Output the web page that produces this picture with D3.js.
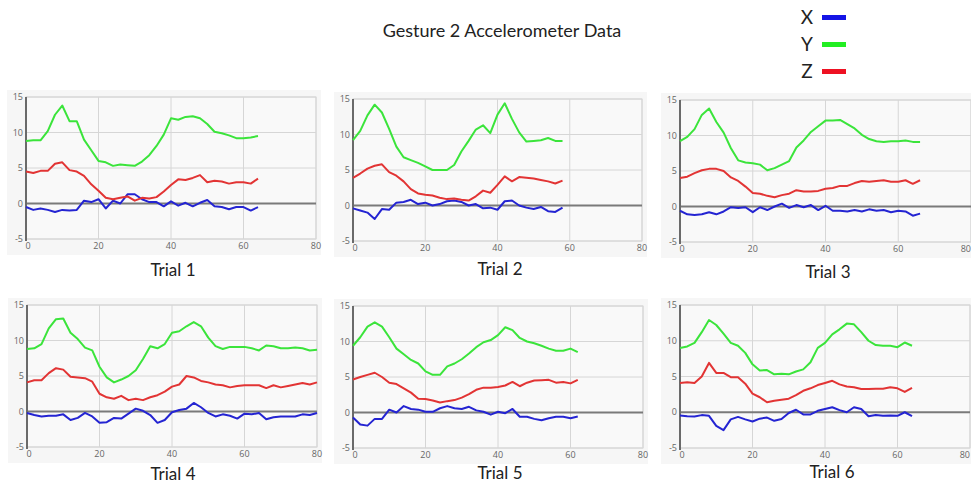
<!DOCTYPE html>
<html>
<head>
<meta charset="utf-8">
<script src="https://cdn.jsdelivr.net/npm/d3@7"></script>
<style>
  body { margin: 0; background: #fff; }
  svg { display: block; font-family: "Open Sans", "Noto Sans", sans-serif; }
  .grid line { stroke: #d6d6d6; stroke-width: 1; }
  .tick-label { font-size: 9px; fill: #666; }
  .trial-label { font-family: Lato, "Open Sans", sans-serif; font-size: 17px; fill: #222; }
</style>
</head>
<body>
<div id="chart"></div>
<script>
// Gesture 2 accelerometer data, six trials, one sample every 2 time units

const xTicks = [0, 20, 40, 60, 80];
const yTicks = [-5, 0, 5, 10, 15];
const seriesNames = ["X", "Y", "Z"];
const trialNames = ["Trial 1", "Trial 2", "Trial 3", "Trial 4", "Trial 5", "Trial 6"];
const sampleStep = 2;

const trial1X = [-0.5, -0.9, -0.7, -0.9, -1.2, -0.9, -1.0, -0.9, 0.4, 0.2, 0.6, -0.7, 0.4, 0.0, 1.3, 1.3, 0.6, 0.2, 0.2, -0.4, 0.3, -0.3, 0.1, -0.4, 0.1, 0.5, -0.4, -0.5, -0.8, -0.5, -0.5, -1.0, -0.5];
const trial1Y = [8.8, 8.9, 8.9, 10.2, 12.5, 13.8, 11.6, 11.6, 9.0, 7.5, 6.0, 5.8, 5.3, 5.5, 5.4, 5.3, 5.9, 6.8, 8.1, 9.7, 12.0, 11.8, 12.2, 12.3, 12.0, 11.2, 10.1, 9.9, 9.6, 9.2, 9.2, 9.3, 9.5];
const trial1Z = [4.5, 4.3, 4.6, 4.6, 5.6, 5.8, 4.7, 4.5, 3.9, 2.7, 1.8, 0.8, 0.6, 0.8, 1.0, 0.4, 0.8, 0.7, 0.9, 1.7, 2.6, 3.4, 3.3, 3.6, 4.0, 3.0, 3.2, 3.1, 2.8, 3.0, 3.0, 2.8, 3.5];

const trial2X = [-0.4, -0.7, -1.0, -1.9, -0.5, -0.6, 0.4, 0.5, 0.8, 0.2, 0.4, 0.0, 0.2, 0.6, 0.7, 0.5, 0.0, 0.2, -0.4, -0.3, -0.6, 0.6, 0.7, 0.0, -0.3, -0.5, -0.2, -0.8, -0.9, -0.3];
const trial2Y = [9.2, 10.5, 12.7, 14.2, 13.1, 10.8, 8.3, 6.8, 6.4, 6.0, 5.5, 5.0, 5.0, 5.0, 5.7, 7.6, 9.1, 10.7, 11.3, 10.2, 12.8, 14.4, 12.2, 10.3, 9.0, 9.1, 9.2, 9.5, 9.1, 9.1];
const trial2Z = [3.9, 4.5, 5.2, 5.6, 5.8, 4.7, 4.2, 3.4, 2.3, 1.7, 1.5, 1.4, 1.1, 0.9, 1.0, 0.8, 0.7, 1.3, 2.1, 1.8, 2.9, 4.1, 3.4, 4.0, 3.9, 3.8, 3.6, 3.4, 3.1, 3.5];

const trial3X = [-0.6, -1.1, -1.2, -1.1, -0.8, -1.1, -0.7, -0.1, -0.2, -0.1, -0.8, -0.1, -0.5, 0.0, 0.4, -0.2, 0.2, -0.1, 0.2, -0.5, 0.1, -0.6, -0.6, -0.7, -0.5, -0.7, -0.4, -0.6, -0.5, -0.8, -0.6, -0.7, -1.3, -1.0];
const trial3Y = [9.2, 9.8, 10.9, 12.9, 13.8, 11.9, 10.4, 8.2, 6.5, 6.2, 6.1, 5.9, 5.1, 5.4, 5.9, 6.4, 8.3, 9.3, 10.5, 11.3, 12.1, 12.1, 12.2, 11.6, 11.0, 10.1, 9.5, 9.2, 9.1, 9.2, 9.2, 9.3, 9.1, 9.1];
const trial3Z = [4.0, 4.2, 4.7, 5.1, 5.3, 5.3, 5.0, 4.1, 3.6, 2.8, 1.9, 1.8, 1.5, 1.3, 1.6, 1.8, 2.3, 2.1, 2.1, 2.2, 2.5, 2.6, 2.9, 2.9, 3.3, 3.6, 3.5, 3.6, 3.7, 3.5, 3.5, 3.7, 3.2, 3.7];

const trial4X = [-0.2, -0.5, -0.7, -0.6, -0.6, -0.4, -1.2, -0.9, -0.2, -0.7, -1.6, -1.5, -0.9, -1.0, -0.3, 0.4, 0.1, -0.5, -1.6, -1.2, -0.1, 0.2, 0.4, 1.2, 0.6, -0.2, -0.7, -0.4, -0.6, -1.0, -0.3, -0.4, -0.2, -1.1, -0.8, -0.7, -0.7, -0.7, -0.4, -0.5, -0.2];
const trial4Y = [8.8, 8.9, 9.5, 11.7, 13.0, 13.1, 11.1, 10.2, 9.0, 8.6, 6.3, 4.8, 4.1, 4.5, 5.0, 5.8, 7.4, 9.2, 8.9, 9.5, 11.1, 11.3, 12.0, 12.6, 12.0, 10.4, 9.2, 8.8, 9.1, 9.1, 9.1, 8.9, 8.6, 9.3, 9.2, 8.9, 8.9, 9.0, 8.9, 8.6, 8.7];
const trial4Z = [4.1, 4.4, 4.4, 5.4, 6.1, 5.9, 4.9, 4.8, 4.7, 4.2, 2.5, 2.0, 1.8, 2.2, 1.6, 1.8, 1.6, 2.0, 2.3, 2.8, 3.5, 3.8, 5.0, 4.8, 4.3, 4.1, 3.8, 3.7, 3.4, 3.6, 3.7, 3.7, 3.7, 3.3, 3.7, 3.4, 3.6, 3.8, 4.0, 3.8, 4.1];

const trial5X = [-0.7, -1.7, -1.85, -0.9, -0.9, 0.4, 0.0, 0.9, 0.5, 0.4, 0.1, 0.1, 0.6, 0.9, 0.6, 0.5, 0.8, 0.3, 0.1, -0.3, 0.1, -0.1, 0.5, -0.6, -0.6, -0.9, -1.1, -0.8, -0.6, -0.6, -0.8, -0.55];
const trial5Y = [9.4, 10.6, 12.1, 12.7, 12.1, 10.6, 9.0, 8.2, 7.4, 6.9, 5.8, 5.3, 5.3, 6.5, 6.9, 7.5, 8.3, 9.2, 9.9, 10.2, 10.9, 12.0, 11.6, 10.5, 10.0, 9.75, 9.4, 9.0, 8.7, 8.7, 9.0, 8.5];
const trial5Z = [4.65, 5.0, 5.3, 5.6, 5.0, 4.2, 4.0, 3.4, 2.8, 1.95, 1.9, 1.7, 1.4, 1.6, 1.75, 2.1, 2.6, 3.2, 3.5, 3.5, 3.6, 3.8, 4.3, 3.7, 4.2, 4.5, 4.55, 4.6, 4.2, 4.3, 4.1, 4.6];

const trial6X = [-0.45, -0.55, -0.6, -0.4, -0.5, -1.9, -2.5, -1.0, -0.65, -1.0, -1.3, -0.9, -0.75, -1.2, -0.95, -0.1, 0.35, -0.3, -0.3, 0.2, 0.45, 0.7, 0.3, 0.0, 0.7, 0.45, -0.55, -0.4, -0.5, -0.45, -0.5, 0.0, -0.55];
const trial6Y = [9.0, 9.2, 9.7, 11.2, 12.9, 12.2, 11.0, 9.7, 9.3, 8.3, 6.7, 5.85, 5.9, 5.3, 5.4, 5.3, 5.7, 6.0, 7.0, 9.0, 9.7, 10.9, 11.6, 12.4, 12.3, 11.2, 10.0, 9.4, 9.3, 9.3, 9.1, 9.75, 9.3];
const trial6Z = [4.1, 4.2, 4.1, 5.0, 6.9, 5.5, 5.5, 4.9, 4.9, 4.0, 2.6, 2.1, 1.4, 1.6, 1.75, 1.9, 2.4, 3.0, 3.35, 3.8, 4.1, 4.4, 3.9, 3.6, 3.5, 3.25, 3.25, 3.3, 3.3, 3.5, 3.35, 2.85, 3.4];

const trials = [
  [trial1X, trial1Y, trial1Z],
  [trial2X, trial2Y, trial2Z],
  [trial3X, trial3Y, trial3Z],
  [trial4X, trial4Y, trial4Z],
  [trial5X, trial5Y, trial5Z],
  [trial6X, trial6Y, trial6Z]
];

// layout of each small chart (plot area in px) and where its caption sits
const panels = [
  {left: 26,  top: 97,  width: 290, height: 142, labelX: 173, labelDy: 37},
  {left: 353, top: 99,  width: 289, height: 142, labelX: 500, labelDy: 34},
  {left: 680, top: 100, width: 291, height: 142, labelX: 828, labelDy: 36},
  {left: 27,  top: 305, width: 290, height: 142, labelX: 173, labelDy: 33},
  {left: 353, top: 306, width: 290, height: 142, labelX: 500, labelDy: 31},
  {left: 680, top: 305, width: 290, height: 143, labelX: 832, labelDy: 30}
];

const lineColor = d3.scaleOrdinal().domain(seriesNames).range(["#2424d2", "#3be43b", "#e23434"]);
const legendColor = d3.scaleOrdinal().domain(seriesNames).range(["#1414e6", "#22ee22", "#ee1122"]);

let svg = d3.select("#chart").append("svg")
    .attr("width", 971)
    .attr("height", 484);

svg.append("text")
    .attr("x", 502)
    .attr("y", 37)
    .style("text-anchor", "middle")
    .style("font-family", "Lato, 'Open Sans', sans-serif")
    .style("font-size", "18px")
    .style("fill", "#222")
    .text("Gesture 2 Accelerometer Data");

// legend
let legend = svg.selectAll(".legend")
    .data(seriesNames)
    .enter().append("g")
    .attr("class", "legend")
    .attr("transform", function(d, i) { return "translate(0," + (17 + i * 27) + ")"; });

legend.append("text")
    .attr("x", 807)
    .attr("dy", ".35em")
    .style("text-anchor", "middle")
    .style("font-family", "Lato, 'Open Sans', sans-serif")
    .style("font-size", "19px")
    .style("fill", "#222")
    .text(function(d) { return d; });

legend.append("rect")
    .attr("x", 822)
    .attr("y", -2)
    .attr("width", 24)
    .attr("height", 5)
    .style("fill", function(d) { return legendColor(d); });

trials.forEach(function(series, t) {
    let p = panels[t];

    let x = d3.scaleLinear().domain([0, 80]).range([0, p.width]);
    let y = d3.scaleLinear().domain([-5, 15]).range([p.height, 0]);

    let g = svg.append("g")
        .attr("transform", "translate(" + p.left + "," + p.top + ")");

    g.append("rect")
        .attr("x", -19)
        .attr("y", -7)
        .attr("width", p.width + 24)
        .attr("height", p.height + 23)
        .style("fill", "#f6f6f6");

    g.append("rect")
        .attr("width", p.width)
        .attr("height", p.height)
        .style("fill", "#f9f9f9")
        .style("stroke", "#d6d6d6");

    let grid = g.append("g").attr("class", "grid");

    grid.selectAll(".vgrid")
        .data(xTicks.slice(1))
        .enter().append("line")
        .attr("x1", function(d) { return x(d); })
        .attr("x2", function(d) { return x(d); })
        .attr("y1", 0)
        .attr("y2", p.height);

    grid.selectAll(".hgrid")
        .data(yTicks.filter(function(d) { return d !== 0; }))
        .enter().append("line")
        .attr("x1", 0)
        .attr("x2", p.width)
        .attr("y1", function(d) { return y(d); })
        .attr("y2", function(d) { return y(d); });

    // zero line and left axis
    g.append("line")
        .attr("x1", 0)
        .attr("x2", p.width)
        .attr("y1", y(0))
        .attr("y2", y(0))
        .style("stroke", "#7a7a7a")
        .style("stroke-width", 2);

    g.append("line")
        .attr("x1", 0)
        .attr("x2", 0)
        .attr("y1", 0)
        .attr("y2", p.height + 2)
        .style("stroke", "#6a6a6a")
        .style("stroke-width", 2);

    g.selectAll(".ylab")
        .data(yTicks)
        .enter().append("text")
        .attr("class", "tick-label")
        .attr("x", -3)
        .attr("y", function(d) { return y(d); })
        .attr("dy", ".35em")
        .style("text-anchor", "end")
        .text(function(d) { return d; });

    // the last x label is kept inside the window when the panel touches the edge
    g.selectAll(".xlab")
        .data(xTicks)
        .enter().append("text")
        .attr("class", "tick-label")
        .attr("x", function(d) { return x(d) + (d === 0 ? 2 : 0); })
        .attr("y", p.height + 10)
        .style("text-anchor", function(d) {
            return (d === 80 && p.left + p.width > 960) ? "end" : "middle";
        })
        .text(function(d) { return d; });

    let line = d3.line()
        .x(function(d, i) { return x(i * sampleStep); })
        .y(function(d) { return y(d); });

    g.selectAll(".series")
        .data(series)
        .enter().append("path")
        .attr("class", "series")
        .attr("d", function(d) { return line(d); })
        .style("fill", "none")
        .style("stroke", function(d, i) { return lineColor(seriesNames[i]); })
        .style("stroke-width", 2)
        .style("stroke-linejoin", "round");

    g.append("text")
        .attr("class", "trial-label")
        .attr("x", p.labelX - p.left)
        .attr("y", p.height + p.labelDy)
        .style("text-anchor", "middle")
        .text(trialNames[t]);
});
</script>
</body>
</html>
